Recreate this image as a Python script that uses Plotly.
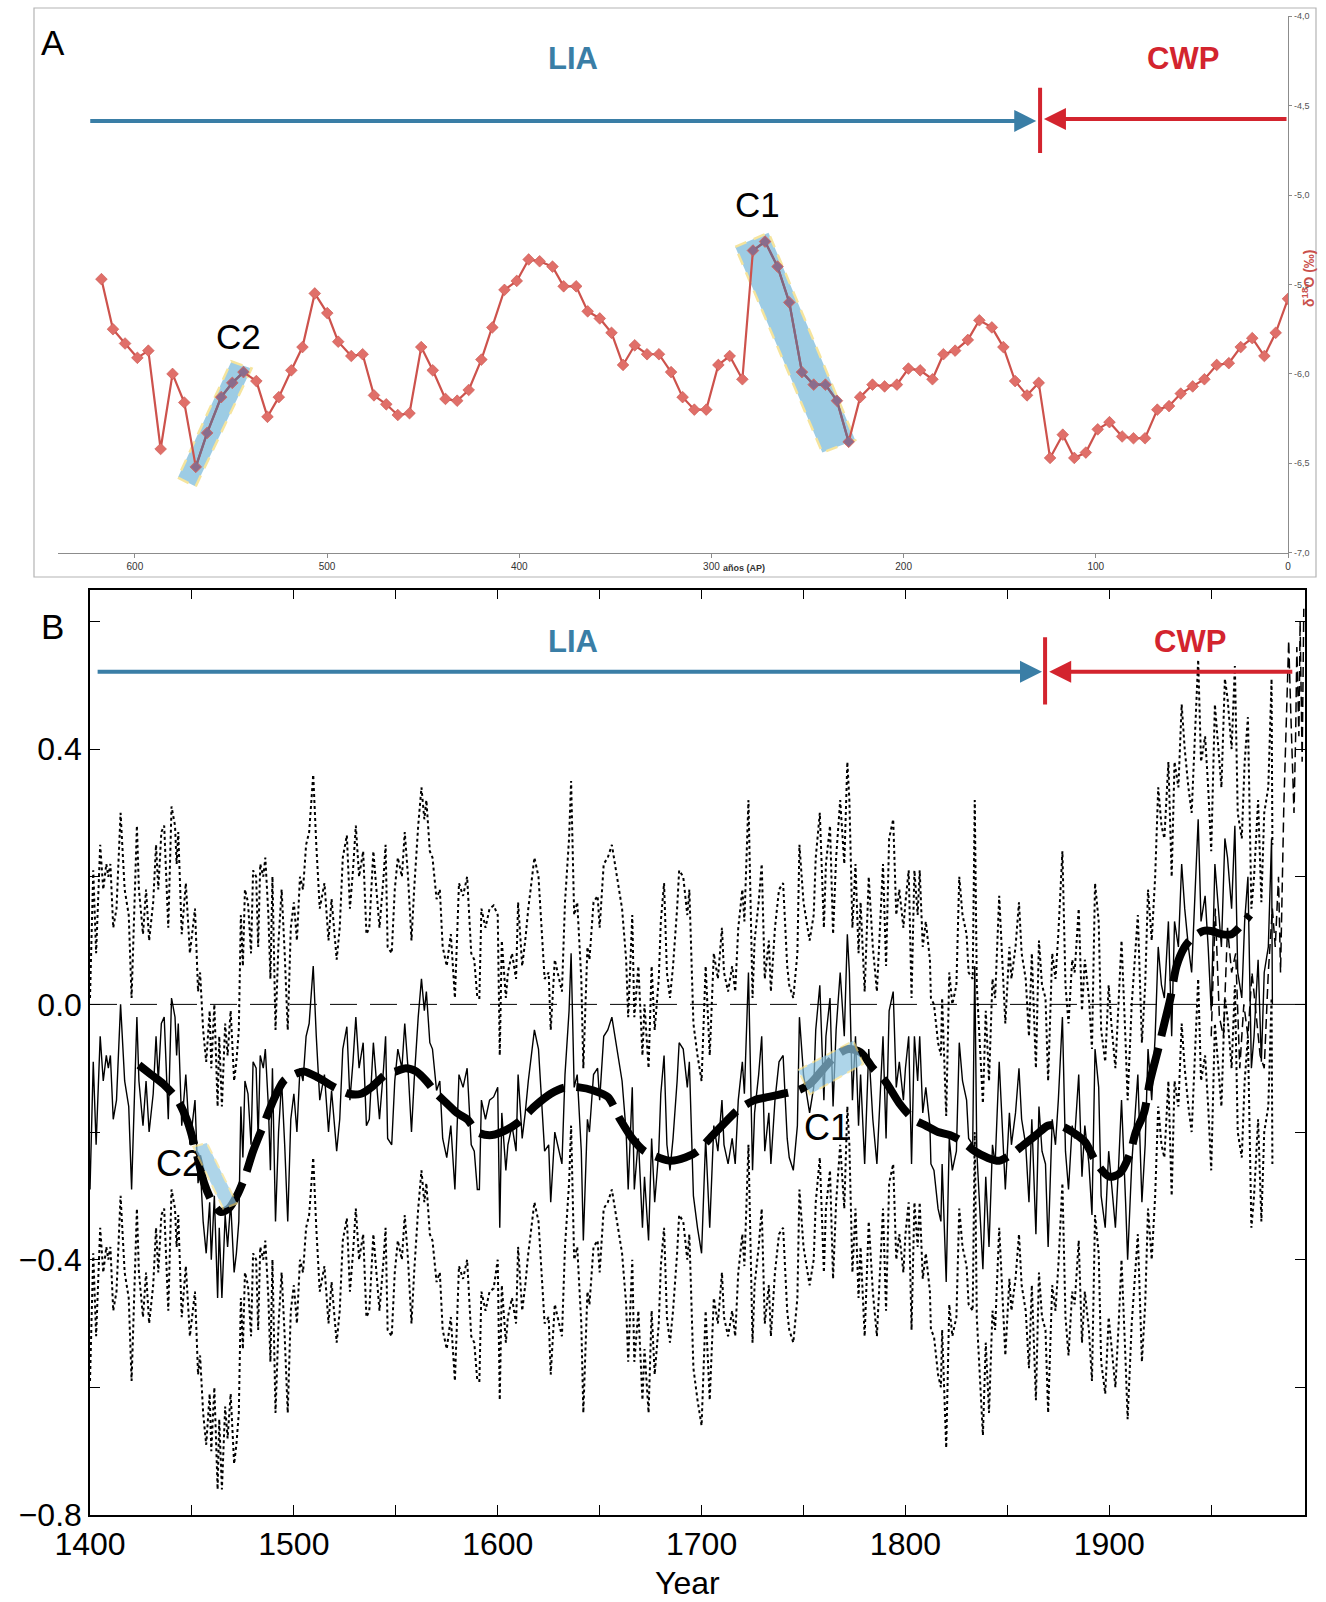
import plotly.graph_objects as go

FIG_W, FIG_H = 1326, 1602


def px(x):
    """horizontal pixel -> paper fraction"""
    return x / FIG_W


def py(y):
    """vertical pixel measured from the top -> paper fraction"""
    return 1 - y / FIG_H


# ---------------- Panel A: speleothem d18O record (years BP) ----------------
a_years = [617.4, 611.4, 605.1, 598.7, 593.0, 586.6, 580.4, 574.3, 568.3, 562.4,
           555.1, 549.3, 543.5, 536.8, 531.0, 525.1, 518.6, 512.8, 506.4, 499.9,
           494.2, 487.4, 481.5, 475.6, 469.2, 463.2, 457.1, 451.0, 445.0, 438.4,
           432.3, 426.3, 419.7, 414.0, 407.7, 401.3, 395.1, 389.4, 382.7, 376.9,
           370.4, 364.4, 358.1, 352.0, 346.0, 339.9, 333.5, 327.3, 321.0, 315.0,
           308.9, 302.7, 296.4, 290.5, 283.9, 278.4, 272.1, 265.6, 259.5, 252.9,
           246.8, 240.7, 234.7, 228.6, 222.6, 216.2, 209.9, 203.5, 197.5, 191.4,
           185.0, 179.3, 173.2, 166.6, 160.6, 154.1, 148.1, 142.0, 135.8, 129.7,
           123.8, 117.2, 111.2, 105.2, 99.0, 92.9, 86.3, 80.4, 74.4, 68.0,
           61.9, 55.8, 49.6, 43.5, 37.1, 30.8, 24.6, 18.6, 12.3, 6.4, 0.0]
a_d18o = [-5.47, -5.75, -5.83, -5.91, -5.87, -6.42, -6.00, -6.16, -6.52, -6.33,
          -6.13, -6.05, -5.99, -6.04, -6.24, -6.13, -5.98, -5.85, -5.55, -5.66,
          -5.82, -5.90, -5.89, -6.12, -6.17, -6.23, -6.22, -5.85, -5.98, -6.14,
          -6.15, -6.09, -5.92, -5.74, -5.53, -5.48, -5.36, -5.37, -5.40, -5.51,
          -5.51, -5.65, -5.69, -5.77, -5.95, -5.84, -5.89, -5.89, -5.99, -6.13,
          -6.20, -6.20, -5.95, -5.90, -6.03, -5.31, -5.26, -5.40, -5.60, -5.99,
          -6.06, -6.06, -6.15, -6.38, -6.13, -6.06, -6.07, -6.06, -5.97, -5.98,
          -6.03, -5.89, -5.87, -5.81, -5.70, -5.74, -5.85, -6.04, -6.12, -6.05,
          -6.47, -6.34, -6.47, -6.44, -6.31, -6.27, -6.35, -6.36, -6.36, -6.20,
          -6.18, -6.11, -6.07, -6.03, -5.95, -5.94, -5.85, -5.80, -5.90, -5.77, -5.58]

a_xticks = [600, 500, 400, 300, 200, 100, 0]
a_yticks = [-7.0, -6.5, -6.0, -5.5, -5.0, -4.5, -4.0]
a_yticktext = ["-7,0", "-6,5", "-6,0", "-5,5", "-5,0", "-4,5", "-4,0"]

# cold events C2 / C1: year windows of highlighted samples and their boxes
a_event_windows = {"C2": (569.0, 543.0), "C1": (279.0, 228.0)}
a_event_boxes = {
    "C2": ([577.6, 568.4, 539.3, 549.8], [-6.58, -6.63, -5.97, -5.93]),
    "C1": ([287.6, 270.3, 225.2, 242.3], [-5.29, -5.21, -6.37, -6.44]),
}
a_event_labels = {"C2": (546.0, -5.79), "C1": (276.0, -5.05)}

# period arrows (years BP)
a_lia = (624.0, 131.0)
a_cwp = (0.0, 127.0)
a_boundary = 129.0
a_arrow_level = -4.585

# ---------------- Panel B: NH temperature reconstruction ----------------
b_years = [
    1400, 1401.6, 1403, 1405, 1406.5, 1408, 1409, 1410, 1411.4, 1413, 1415, 1417, 1419,
    1420.4, 1423, 1424, 1426, 1427.5, 1429, 1431, 1432.4, 1433.5, 1435, 1436.4, 1438.4,
    1440, 1441.7, 1442.5, 1443.3, 1445, 1447, 1449, 1451.5, 1453, 1454, 1455.5, 1457,
    1458.7, 1459.5, 1461, 1462.6, 1463.4, 1464.7, 1466.3, 1467.5, 1469, 1470.7, 1471.8,
    1473, 1474, 1475, 1476, 1477.5, 1479, 1480, 1481.5, 1482.5, 1483.5, 1485, 1486,
    1487.5, 1488.5, 1489.5, 1491, 1492.5, 1494, 1495.5, 1497, 1498.5, 1500, 1501.5,
    1503, 1504.5, 1506, 1507.5, 1509.5, 1511, 1512.7, 1515, 1517, 1518.5, 1521, 1522.5,
    1524, 1526, 1527.5, 1529, 1530.4, 1532, 1534, 1535.6, 1537, 1539, 1540.5, 1542,
    1544, 1545, 1546, 1548, 1549.5, 1551, 1553, 1554.4, 1556, 1557.7, 1559, 1561,
    1562.6, 1564, 1565, 1566.7, 1568, 1570, 1571.6, 1573, 1575, 1577, 1579, 1581,
    1583, 1585, 1587, 1588.5, 1590, 1591, 1592, 1594, 1596, 1598, 1600, 1601, 1602,
    1604, 1605, 1607, 1609, 1610, 1612, 1613.5, 1615, 1617, 1618, 1620, 1622, 1623,
    1625, 1626, 1628, 1630, 1631.5, 1633, 1635, 1636, 1637.5, 1639, 1641, 1642, 1644,
    1645, 1647, 1649, 1650, 1652, 1654, 1656, 1657.5, 1659, 1661, 1663, 1664, 1666,
    1667, 1669, 1671, 1672, 1674, 1675.5, 1677, 1679, 1680, 1681.6, 1683, 1684.5,
    1686, 1688, 1689, 1691, 1693, 1694, 1696, 1698, 1700, 1702, 1704, 1706, 1708,
    1710, 1711, 1713, 1715, 1716.5, 1718, 1720, 1721, 1723, 1725, 1726, 1728, 1729.5,
    1731, 1733, 1734, 1736, 1738, 1740, 1742, 1743, 1745, 1747, 1748, 1750, 1752,
    1753, 1755, 1756, 1758, 1760, 1761, 1763, 1764.5, 1766, 1768, 1770, 1771.5,
    1772.5, 1774, 1775.5, 1777, 1778, 1780, 1782, 1784, 1786, 1787.5, 1789, 1790.5,
    1792, 1794, 1795.5, 1797, 1799, 1800, 1801.6, 1803, 1804.4, 1806, 1807, 1808.5,
    1810, 1812, 1812.5, 1814, 1816, 1817.4, 1818, 1820, 1821.5, 1823, 1825, 1826.4,
    1828, 1830, 1831, 1833, 1834, 1835, 1836, 1838, 1839.4, 1841, 1842.7, 1844, 1846,
    1848, 1849, 1851, 1852, 1854, 1855.7, 1857, 1859, 1860.6, 1862, 1864, 1865.5,
    1867, 1868.7, 1870, 1872, 1873.6, 1875, 1877, 1878.5, 1880, 1881.8, 1883, 1885,
    1886.6, 1888, 1890, 1891.5, 1893, 1894.8, 1896, 1898, 1899.7, 1901, 1903, 1904.6,
    1906, 1908, 1909, 1911, 1912.7, 1914, 1916, 1917.6, 1919, 1920.8, 1922.5, 1924,
    1925.6, 1927, 1929, 1930.6, 1932, 1933.9, 1935.5, 1937, 1938.8, 1940.4, 1942,
    1943.6, 1945, 1947, 1948.5, 1950, 1951.8, 1953, 1955, 1956.7, 1958, 1960, 1961.6,
    1963, 1965, 1966.4, 1968, 1969.7, 1971, 1973, 1974.6, 1976, 1978, 1979.6, 1980]
b_recon = [
    -0.29, -0.09, -0.22, -0.05, -0.12, -0.08, -0.10, -0.08, -0.18, -0.15, 0.00, -0.12, -0.16,
    -0.29, -0.02, -0.12, -0.19, -0.12, -0.20, -0.14, -0.05, -0.12, -0.03, -0.02, -0.18,
    0.01, -0.02, -0.08, -0.03, -0.19, -0.11, -0.22, -0.15, -0.28, -0.25, -0.34, -0.39,
    -0.31, -0.40, -0.30, -0.46, -0.35, -0.46, -0.33, -0.38, -0.31, -0.42, -0.39,
    -0.34, -0.16, -0.24, -0.12, -0.14, -0.22, -0.09, -0.10, -0.21, -0.08, -0.10, -0.07,
    -0.16, -0.26, -0.10, -0.34, -0.20, -0.12, -0.22, -0.34, -0.18, -0.14, -0.20,
    -0.10, -0.12, -0.05, -0.03, 0.06, -0.05, -0.15, -0.11, -0.20, -0.135, -0.23, -0.18,
    -0.07, -0.035, -0.15, -0.09, -0.02, -0.10, -0.06, -0.19, -0.18, -0.06, -0.12, -0.18,
    -0.10, -0.05, -0.21, -0.22, -0.12, -0.07, -0.10, -0.03, -0.10, -0.20, -0.12, -0.02,
    0.04, -0.01, 0.02, -0.06, -0.07, -0.135, -0.12, -0.21, -0.24, -0.19, -0.29, -0.11,
    -0.13, -0.10, -0.22, -0.23, -0.29, -0.29, -0.15, -0.18, -0.15, -0.145, -0.13, -0.35, -0.17,
    -0.26, -0.22, -0.19, -0.23, -0.11, -0.21, -0.17, -0.12, -0.06, -0.04, -0.07, -0.18, -0.23,
    -0.22, -0.31, -0.20, -0.23, -0.25, -0.11, -0.01, 0.08, -0.13, -0.11, -0.23, -0.37, -0.18,
    -0.20, -0.11, -0.10, -0.15, -0.05, -0.04, -0.02, -0.05, -0.08, -0.12, -0.20, -0.29, -0.13,
    -0.29, -0.21, -0.35, -0.27, -0.37, -0.21, -0.31, -0.23, -0.14, -0.08, -0.22, -0.26,
    -0.21, -0.12, -0.06, -0.07, -0.13, -0.09, -0.30, -0.35, -0.39, -0.21, -0.35, -0.19, -0.23,
    -0.15, -0.22, -0.25, -0.21, -0.25, -0.15, -0.09, -0.14, 0.05, -0.26, -0.17, -0.11, -0.05,
    -0.23, -0.17, -0.25, -0.15, -0.09, -0.08, -0.21, -0.24, -0.26, -0.19, -0.02, -0.11, -0.15,
    -0.17, -0.13, -0.04, 0.03, -0.15, -0.05, 0.01, -0.16, -0.04, 0.05, -0.05, 0.11,
    0.05, -0.15, -0.05, -0.19, -0.11, -0.25, -0.07, -0.18, -0.25, -0.15, -0.05, -0.21,
    -0.01, 0.02, -0.13, -0.09, -0.15, -0.10, -0.05, -0.25, -0.05, -0.12, -0.05, -0.17,
    -0.13, -0.19, -0.25, -0.26, -0.32, -0.34, -0.25, -0.435, -0.21, -0.26, -0.23, -0.06,
    -0.12, -0.15, -0.21, -0.22, 0.06, -0.23, -0.30, -0.415, -0.27, -0.38, -0.22, -0.25, -0.09,
    -0.23, -0.29, -0.17, -0.22, -0.17, -0.10, -0.18, -0.22, -0.31, -0.18, -0.36, -0.16,
    -0.23, -0.25, -0.38, -0.18, -0.22, -0.15, -0.02, -0.23, -0.29, -0.19, -0.21, -0.11,
    -0.27, -0.19, -0.25, -0.33, -0.07, -0.13, -0.30, -0.35, -0.23, -0.28, -0.35, -0.25,
    -0.15, -0.31, -0.40, -0.25, -0.17, -0.11, -0.31, -0.22, -0.07, -0.15, -0.05, 0.09,
    0.03, 0.01, 0.13, -0.05, 0.13, 0.09, 0.22, 0.15, 0.09, 0.05, 0.17,
    0.29, 0.13, 0.17, 0.09, -0.01, 0.22, 0.17, 0.09, 0.26, 0.23, 0.15, 0.28,
    0.05, 0.01, 0.13, 0.20, -0.10, -0.05, 0.07, -0.09, 0.05, 0.09, 0.26, 0.0]

# two-standard-error half widths of the reconstruction, by calibration period
b_error_periods = [(1400, 1600, 0.30), (1600, 1800, 0.27), (1800, 1900, 0.26), (1900, 1981, 0.25)]

# 40-year smoothed series
b_smooth_years = [1424, 1430, 1436, 1443, 1448, 1452, 1456, 1460, 1464, 1468, 1472, 1476,
                  1480, 1485, 1490, 1495, 1500, 1505, 1512, 1520, 1527, 1533, 1538, 1545,
                  1550, 1555, 1560, 1565, 1570, 1575, 1580, 1585, 1590, 1596, 1602, 1610,
                  1618, 1626, 1633, 1640, 1647, 1654, 1660, 1666, 1672, 1679, 1685, 1692,
                  1698, 1704, 1710, 1718, 1726, 1733, 1740, 1747, 1753, 1760, 1766, 1772,
                  1778, 1784, 1790, 1797, 1804, 1810, 1816, 1822, 1828, 1834, 1840, 1846,
                  1852, 1858, 1864, 1870, 1876, 1882, 1888, 1894, 1900, 1905, 1910, 1913,
                  1917, 1920, 1924, 1927, 1930, 1933, 1937, 1941, 1946, 1950, 1955, 1960,
                  1965, 1969]
b_smooth = [-0.095, -0.11, -0.125, -0.15, -0.185, -0.23, -0.28, -0.31, -0.325, -0.32, -0.30, -0.27,
            -0.23, -0.19, -0.15, -0.12, -0.11, -0.105, -0.115, -0.13, -0.14, -0.14, -0.13, -0.11,
            -0.105, -0.10, -0.105, -0.12, -0.14, -0.155, -0.17, -0.18, -0.20, -0.205, -0.20, -0.185,
            -0.16, -0.14, -0.13, -0.13, -0.135, -0.145, -0.18, -0.21, -0.23, -0.24, -0.245, -0.24,
            -0.23, -0.21, -0.19, -0.165, -0.15, -0.145, -0.14, -0.135, -0.125, -0.10, -0.08, -0.07,
            -0.075, -0.10, -0.12, -0.155, -0.18, -0.19, -0.20, -0.205, -0.215, -0.23, -0.24, -0.245,
            -0.235, -0.22, -0.205, -0.19, -0.19, -0.20, -0.215, -0.25, -0.27, -0.265, -0.235, -0.20,
            -0.17, -0.12, -0.07, -0.03, 0.01, 0.06, 0.09, 0.105, 0.115, 0.115, 0.11, 0.11,
            0.125, 0.14]

# instrumental record
b_instr_years = [1950, 1952, 1954, 1956, 1958, 1960, 1962, 1964, 1966, 1968, 1970, 1972,
                 1974, 1976, 1978, 1980, 1981.4, 1983, 1984, 1985.6, 1986.4, 1988, 1989,
                 1990.6, 1991.4, 1992, 1993, 1993.6, 1994.6, 1995.4]
b_instr = [-0.05, 0.15, -0.02, -0.05, 0.12, 0.05, 0.08, -0.10, 0.0, -0.05, 0.05, -0.02,
           -0.08, -0.10, 0.05, 0.15, 0.09, 0.20, 0.05, 0.31, 0.41, 0.57, 0.46,
           0.30, 0.42, 0.56, 0.42, 0.60, 0.38, 0.62]

b_xtickvals = [1400, 1450, 1500, 1550, 1600, 1650, 1700, 1750, 1800, 1850, 1900, 1950]
b_xticktext = ["1400", " ", "1500", " ", "1600", " ", "1700", " ", "1800", " ", "1900", " "]
b_ytickvals = [-0.8, -0.6, -0.4, -0.2, 0.0, 0.2, 0.4, 0.6]
b_yticktext = ["\u22120.8", " ", "\u22120.4", " ", "0.0", " ", "0.4", " "]

b_event_boxes = {
    "C2": ([1450.7, 1457.3, 1472.0, 1465.4], [-0.223, -0.217, -0.312, -0.320]),
    "C1": ([1747.4, 1774.4, 1779.3, 1753.1], [-0.103, -0.057, -0.093, -0.141]),
}
b_event_labels = {"C2": (1443.7, -0.255), "C1": (1761.5, -0.199)}

b_lia = (1403.0, 1867.0)
b_cwp = (1990.5, 1870.5)
b_boundary = 1868.5
b_arrow_level = 0.521

BLUE = "#3a7ea6"
RED = "#d3242e"
A_LINE = "#cd524c"
A_MARK = "#e06f69"
EVENT_LINE = "#7f6782"
BOX_FILL = "#8cc4e0"
BOX_EDGE = "#f4e08c"
FONT = "Liberation Sans, Arial, sans-serif"


def halfwidth(year):
    for lo, hi, hw in b_error_periods:
        if lo <= year < hi:
            return hw
    return b_error_periods[-1][2]


def box_path(xs, ys):
    pts = " L ".join(f"{x},{y}" for x, y in zip(xs, ys))
    return f"M {pts} Z"


fig = go.Figure()

# ---- panel A traces ----
fig.add_trace(go.Scatter(
    x=a_years, y=a_d18o, mode="lines+markers", xaxis="x", yaxis="y",
    line=dict(color=A_LINE, width=2.2),
    marker=dict(symbol="diamond", size=9, color=A_MARK, line=dict(color="#c8524c", width=0.6)),
    showlegend=False, hoverinfo="skip"))

for name, (hi, lo) in a_event_windows.items():
    ex = [x for x in a_years if lo <= x <= hi]
    ey = [v for x, v in zip(a_years, a_d18o) if lo <= x <= hi]
    fig.add_trace(go.Scatter(
        x=ex, y=ey, mode="lines+markers", xaxis="x", yaxis="y",
        line=dict(color=EVENT_LINE, width=2.2),
        marker=dict(symbol="diamond", size=8, color="#8a6c8c"),
        showlegend=False, hoverinfo="skip"))

# ---- panel B traces ----
for name, (lx, ly) in b_event_labels.items():
    fig.add_trace(go.Scatter(
        x=[lx], y=[ly], mode="text", text=[name], xaxis="x2", yaxis="y2",
        textfont=dict(family=FONT, size=36, color="black"),
        showlegend=False, hoverinfo="skip"))

upper = [v + halfwidth(t) for t, v in zip(b_years, b_recon)]
lower = [v - halfwidth(t) for t, v in zip(b_years, b_recon)]
for series in (upper, lower):
    fig.add_trace(go.Scatter(
        x=b_years, y=series, mode="lines", xaxis="x2", yaxis="y2",
        line=dict(color="black", width=2, dash="3px,3px"),
        showlegend=False, hoverinfo="skip"))

fig.add_trace(go.Scatter(
    x=[1400, 1980], y=[0, 0], mode="lines", xaxis="x2", yaxis="y2",
    line=dict(color="black", width=1, dash="27px,13px"),
    showlegend=False, hoverinfo="skip"))
fig.add_trace(go.Scatter(
    x=[1980, 1996], y=[0, 0], mode="lines", xaxis="x2", yaxis="y2",
    line=dict(color="black", width=1),
    showlegend=False, hoverinfo="skip"))

fig.add_trace(go.Scatter(
    x=b_years, y=b_recon, mode="lines", xaxis="x2", yaxis="y2",
    line=dict(color="black", width=1.4),
    showlegend=False, hoverinfo="skip"))

fig.add_trace(go.Scatter(
    x=b_instr_years, y=b_instr, mode="lines", xaxis="x2", yaxis="y2",
    line=dict(color="black", width=1.5, dash="10px,5px"),
    showlegend=False, hoverinfo="skip"))

fig.add_trace(go.Scatter(
    x=b_smooth_years, y=b_smooth, mode="lines", xaxis="x2", yaxis="y2",
    line=dict(color="black", width=8, dash="44px,12px", shape="spline", smoothing=0.8),
    showlegend=False, hoverinfo="skip"))

shapes = []
# panel frame of A
shapes.append(dict(type="rect", xref="paper", yref="paper",
                   x0=px(34), x1=px(1316), y0=py(577), y1=py(8),
                   line=dict(color="#b4b4b4", width=1.2), layer="below"))

for name, (xs, ys) in a_event_boxes.items():
    shapes.append(dict(type="path", xref="x", yref="y", path=box_path(xs, ys),
                       fillcolor=BOX_FILL, opacity=0.85,
                       line=dict(color=BOX_EDGE, width=2.5, dash="12px,8px"), layer="below"))
for name, (xs, ys) in b_event_boxes.items():
    shapes.append(dict(type="path", xref="x2", yref="y2", path=box_path(xs, ys),
                       fillcolor=BOX_FILL, opacity=0.7,
                       line=dict(color=BOX_EDGE, width=2, dash="10px,6px"), layer="above"))

# boundary bars between the periods
shapes.append(dict(type="line", xref="x", yref="y", x0=a_boundary, x1=a_boundary,
                   y0=-4.40, y1=-4.765, line=dict(color=RED, width=4)))
shapes.append(dict(type="line", xref="x2", yref="y2", x0=b_boundary, x1=b_boundary,
                   y0=0.575, y1=0.470, line=dict(color=RED, width=4)))

annotations = []


def period_arrow(tail, head, level, color, xr, yr):
    return dict(x=head, y=level, ax=tail, ay=level, xref=xr, yref=yr, axref=xr, ayref=yr,
                text="", showarrow=True, arrowhead=2, arrowsize=1.1, arrowwidth=4,
                arrowcolor=color, standoff=0)


annotations.append(period_arrow(a_lia[0], a_lia[1], a_arrow_level, BLUE, "x", "y"))
annotations.append(period_arrow(a_cwp[0], a_cwp[1], a_arrow_level + 0.01, RED, "x", "y"))
annotations.append(period_arrow(b_lia[0], b_lia[1], b_arrow_level, BLUE, "x2", "y2"))
annotations.append(period_arrow(b_cwp[0], b_cwp[1], b_arrow_level, RED, "x2", "y2"))

# period names
annotations += [
    dict(x=372, y=-4.235, xref="x", yref="y", text="<b>LIA</b>", showarrow=False,
         font=dict(family=FONT, size=31, color=BLUE)),
    dict(x=54.5, y=-4.235, xref="x", yref="y", text="<b>CWP</b>", showarrow=False,
         font=dict(family=FONT, size=31, color=RED)),
    dict(x=1637, y=0.569, xref="x2", yref="y2", text="<b>LIA</b>", showarrow=False,
         font=dict(family=FONT, size=31, color=BLUE)),
    dict(x=1939.6, y=0.569, xref="x2", yref="y2", text="<b>CWP</b>", showarrow=False,
         font=dict(family=FONT, size=31, color=RED)),
]

# event labels in A
for name, (lx, ly) in a_event_labels.items():
    annotations.append(dict(x=lx, y=ly, xref="x", yref="y", text=name, showarrow=False,
                            font=dict(family=FONT, size=35, color="black")))

# panel letters
annotations += [
    dict(x=px(53), y=py(43), xref="paper", yref="paper", text="A", showarrow=False,
         xanchor="center", yanchor="middle",
         font=dict(family=FONT, size=35, color="black")),
    dict(x=px(53), y=py(626), xref="paper", yref="paper", text="B", showarrow=False,
         xanchor="center", yanchor="middle",
         font=dict(family=FONT, size=35, color="black")),
]

# axis captions
annotations += [
    dict(x=px(721), y=py(568), xref="paper", yref="paper", text="<b>años (AP)</b>",
         xanchor="left", yanchor="middle", showarrow=False,
         font=dict(family=FONT, size=9, color="#333")),
    dict(x=px(1308), y=py(278), xref="paper", yref="paper",
         text="<b>δ<sup>18</sup>O (‰)</b>", textangle=-90, showarrow=False,
         xanchor="center", yanchor="middle",
         font=dict(family=FONT, size=14, color="#c9504b")),
    dict(x=px(687), y=py(1583), xref="paper", yref="paper", text="Year",
         xanchor="center", yanchor="middle",
         showarrow=False, font=dict(family=FONT, size=32, color="black")),
]

fig.update_layout(
    width=FIG_W, height=FIG_H,
    margin=dict(l=0, r=0, t=0, b=0, autoexpand=False),
    paper_bgcolor="white", plot_bgcolor="white",
    showlegend=False,
    shapes=shapes, annotations=annotations,
    xaxis=dict(domain=[px(58), px(1288)], range=[640, 0], anchor="y", automargin=False,
               showgrid=False, zeroline=False, showline=True, linecolor="#8c8c8c", linewidth=1.2,
               ticks="outside", ticklen=4, tickcolor="#8c8c8c", tickvals=a_xticks,
               tickfont=dict(family=FONT, size=10, color="#333")),
    yaxis=dict(domain=[py(552.7), py(16.3)], range=[-7.0, -4.0], anchor="x", side="right",
               automargin=False,
               showgrid=False, zeroline=False, showline=True, linecolor="#8c8c8c", linewidth=1.2,
               ticks="outside", ticklen=3, tickcolor="#8c8c8c",
               tickvals=a_yticks, ticktext=a_yticktext,
               tickfont=dict(family=FONT, size=9, color="#555")),
    xaxis2=dict(domain=[px(90), px(1305)], range=[1400, 1996], anchor="y2", automargin=False,
                showgrid=False, zeroline=False, showline=True, linecolor="black", linewidth=1.5,
                mirror="allticks", ticks="inside", ticklen=10, tickcolor="black",
                tickvals=b_xtickvals, ticktext=b_xticktext,
                tickfont=dict(family=FONT, size=32, color="black")),
    yaxis2=dict(domain=[py(1515), py(589.5)], range=[-0.8, 0.65], anchor="x2", automargin=False,
                showgrid=False, zeroline=False, showline=True, linecolor="black", linewidth=1.5,
                mirror="allticks", ticks="inside", ticklen=10, tickcolor="black",
                tickvals=b_ytickvals, ticktext=b_yticktext,
                tickfont=dict(family=FONT, size=32, color="black")),
)

fig.write_html("out.html")
